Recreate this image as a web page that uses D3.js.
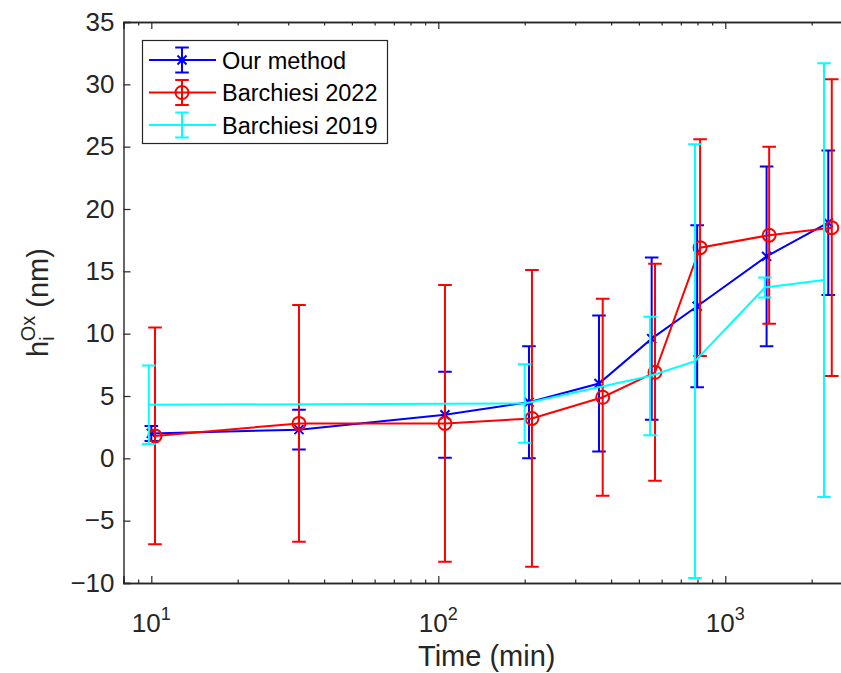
<!DOCTYPE html>
<html lang="en">
<head>
    <meta charset="UTF-8">
    <script src="https://d3js.org/d3.v7.min.js"></script>
    <title>Oxide thickness vs time</title>
</head>
<style>
*{
    font-family: 'Liberation Sans', Arial, Helvetica, sans-serif;
}
body{
    margin: 0;
    background-color: white;
}
svg{
    display: block;
}
</style>
<body>
    <svg id='canvas'></svg>
</body>
<script>
// series values (time in minutes, thickness in nm)
let ourTime = [10, 32.7, 105.5, 207, 363, 554, 798, 1393, 2285]
let ourValue = [2.0, 2.3, 3.5, 4.5, 6.0, 9.6, 12.2, 16.2, 18.9]
let ourError = [0.6, 1.6, 3.45, 4.5, 5.45, 6.5, 6.5, 7.2, 5.8]

let b22Time = [10.3, 32.7, 105.5, 212, 374, 569, 817, 1422, 2350]
let b22Value = [1.8, 2.8, 2.8, 3.2, 4.9, 6.9, 16.9, 17.9, 18.5]
let b22Error = [8.7, 9.5, 11.1, 11.9, 7.9, 8.7, 8.7, 7.1, 11.9]

let b19Time = [9.8, 200, 547, 784, 1374, 2208]
let b19Value = [4.3, 4.4, 6.6, 7.8, 13.7, 14.3]
let b19Error = [3.15, 3.15, 4.75, 17.4, 0.8, 17.4]

let seriesNames = ['Our method', 'Barchiesi 2022', 'Barchiesi 2019']
let seriesColors = ['#0000ff', '#ff0000', '#00ffff']
let seriesMarkers = ['x', 'o', 'none']

let yTicks = [-10, -5, 0, 5, 10, 15, 20, 25, 30, 35]
let xMajorTicks = [10, 100, 1000]
let xMinorTicks = [8, 9, 20, 30, 40, 50, 60, 70, 80, 90, 200, 300, 400, 500, 600, 700, 800, 900, 2000]

let width = 841
let height = 673
let plotLeft = 123.5
let plotRight = 850
let plotTop = 22
let plotBottom = 583
let axisColor = '#262626'

let svg = d3.select('svg')
svg.attr('width', width).attr('height', height)

let xScale = d3.scaleLog()
                .domain([8, 2720])
                .range([plotLeft, plotRight])

let yScale = d3.scaleLinear()
                .domain([-10, 35])
                .range([plotBottom, plotTop])

let makeSeries = (t, v, e) => t.map((d, i) => ({t: d, v: v[i], e: e[i]}))

let series = [
    makeSeries(ourTime, ourValue, ourError),
    makeSeries(b22Time, b22Value, b22Error),
    makeSeries(b19Time, b19Value, b19Error)
]

// axes box
let drawAxes = () => {
    let yAxis = d3.axisLeft(yScale)
                    .tickValues(yTicks)
                    .tickSize(-7)
                    .tickPadding(9)
    let gy = svg.append('g')
        .attr('transform', 'translate(' + plotLeft + ',0)')
        .call(yAxis)
    gy.selectAll('text')
        .attr('font-size', 26)
        .attr('fill', axisColor)
        .text(d => d < 0 ? '\u2212' + Math.abs(d) : d)

    svg.append('g')
        .attr('transform', 'translate(' + plotRight + ',0)')
        .call(d3.axisRight(yScale).tickValues(yTicks).tickSize(-7).tickFormat(''))

    let xAxis = d3.axisBottom(xScale)
                    .tickValues(xMajorTicks)
                    .tickSize(-7)
                    .tickFormat('')
    svg.append('g')
        .attr('transform', 'translate(0,' + plotBottom + ')')
        .call(xAxis)
    svg.append('g')
        .attr('transform', 'translate(0,' + plotTop + ')')
        .call(d3.axisTop(xScale).tickValues(xMajorTicks).tickSize(-7).tickFormat(''))
    svg.append('g')
        .attr('transform', 'translate(0,' + plotBottom + ')')
        .call(d3.axisBottom(xScale).tickValues(xMinorTicks).tickSize(-3.5).tickFormat(''))
    svg.append('g')
        .attr('transform', 'translate(0,' + plotTop + ')')
        .call(d3.axisTop(xScale).tickValues(xMinorTicks).tickSize(-3.5).tickFormat(''))

    svg.selectAll('.domain, .tick line')
        .attr('stroke', axisColor)
        .attr('stroke-width', 1.2)
    svg.selectAll('.domain').attr('stroke-width', 1.4)

    // 10^n labels
    let xl = svg.append('g')
    xMajorTicks.forEach(d => {
        let t = xl.append('text')
            .attr('x', xScale(d))
            .attr('y', 632)
            .attr('text-anchor', 'middle')
            .attr('font-size', 26)
            .attr('fill', axisColor)
        t.append('tspan').text('10')
        t.append('tspan')
            .attr('dy', -12)
            .attr('font-size', 18)
            .text(Math.round(Math.log10(d)))
    })

    svg.append('text')
        .attr('x', (plotLeft + plotRight) / 2)
        .attr('y', 666)
        .attr('text-anchor', 'middle')
        .attr('font-size', 29)
        .attr('fill', axisColor)
        .text('Time (min)')

    let yl = svg.append('text')
        .attr('transform', 'translate(48,' + ((plotTop + plotBottom) / 2) + ') rotate(-90)')
        .attr('text-anchor', 'middle')
        .attr('font-size', 29)
        .attr('fill', axisColor)
    yl.append('tspan').text('h')
    yl.append('tspan').attr('dy', 6).attr('font-size', 20).text('i')
    yl.append('tspan').attr('dx', -5).attr('dy', -19).attr('font-size', 20).text('Ox')
    yl.append('tspan').attr('dy', 13).text(' (nm)')
}

let drawMarker = (g, type, cx, cy, color) => {
    if(type === 'o'){
        g.append('circle')
            .attr('cx', cx).attr('cy', cy).attr('r', 6.5)
            .attr('fill', 'none')
            .attr('stroke', color)
            .attr('stroke-width', 2)
    }else if(type === 'x'){
        let s = 4.5
        g.append('path')
            .attr('d', 'M' + (cx - s) + ',' + (cy - s) + 'L' + (cx + s) + ',' + (cy + s) +
                       'M' + (cx - s) + ',' + (cy + s) + 'L' + (cx + s) + ',' + (cy - s))
            .attr('stroke', color)
            .attr('stroke-width', 2)
    }
}

let drawSeries = () => {
    let cap = 6.8
    series.forEach((data, k) => {
        let color = seriesColors[k]
        let g = svg.append('g')

        g.selectAll('path.bar')
            .data(data)
            .enter()
            .append('path')
            .attr('class', 'bar')
            .attr('d', d => {
                let x = xScale(d.t)
                let y1 = yScale(d.v + d.e)
                let y0 = yScale(d.v - d.e)
                return 'M' + x + ',' + y0 + 'L' + x + ',' + y1 +
                       'M' + (x - cap) + ',' + y1 + 'L' + (x + cap) + ',' + y1 +
                       'M' + (x - cap) + ',' + y0 + 'L' + (x + cap) + ',' + y0
            })
            .attr('fill', 'none')
            .attr('stroke', color)
            .attr('stroke-width', 2)

        let line = d3.line()
                    .x(d => xScale(d.t))
                    .y(d => yScale(d.v))
        g.append('path')
            .datum(data)
            .attr('d', line)
            .attr('fill', 'none')
            .attr('stroke', color)
            .attr('stroke-width', 2)

        data.forEach(d => drawMarker(g, seriesMarkers[k], xScale(d.t), yScale(d.v), color))
    })
}

let drawLegend = () => {
    let g = svg.append('g')
    g.append('rect')
        .attr('x', 142.5).attr('y', 40.5)
        .attr('width', 245).attr('height', 103)
        .attr('fill', 'white')
        .attr('stroke', axisColor)
        .attr('stroke-width', 1.2)
    seriesNames.forEach((name, k) => {
        let y = 60 + k * 32.5
        let color = seriesColors[k]
        g.append('path')
            .attr('d', 'M149,' + y + 'L216,' + y +
                       'M182,' + (y - 12.5) + 'L182,' + (y + 12.5) +
                       'M175.2,' + (y - 12.5) + 'L188.8,' + (y - 12.5) +
                       'M175.2,' + (y + 12.5) + 'L188.8,' + (y + 12.5))
            .attr('stroke', color)
            .attr('stroke-width', 2)
            .attr('fill', 'none')
        drawMarker(g, seriesMarkers[k], 182, y, color)
        g.append('text')
            .attr('x', 222)
            .attr('y', y + 8.5)
            .attr('font-size', 23.5)
            .attr('fill', 'black')
            .text(name)
    })
}

drawAxes()
drawSeries()
drawLegend()
</script>
</html>
